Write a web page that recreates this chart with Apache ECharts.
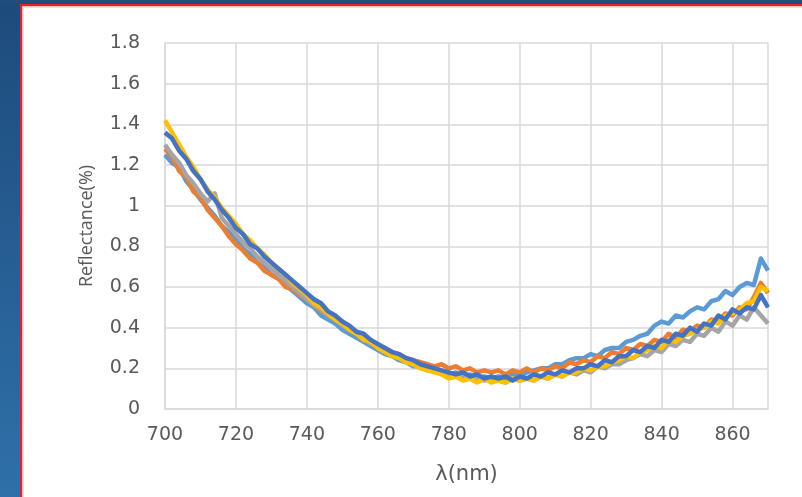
<!DOCTYPE html>
<html><head><meta charset="utf-8">
<script src="https://cdn.jsdelivr.net/npm/echarts@6/dist/echarts.min.js"></script>
<style>html,body{margin:0;padding:0;background:#fff;}#c{width:802px;height:497px;}</style>
</head><body><div id="c"></div>
<script>
const wavelengths = [700,702,704,706,708,710,712,714,716,718,720,722,724,726,728,730,732,734,736,738,740,742,744,746,748,750,752,754,756,758,760,762,764,766,768,770,772,774,776,778,780,782,784,786,788,790,792,794,796,798,800,802,804,806,808,810,812,814,816,818,820,822,824,826,828,830,832,834,836,838,840,842,844,846,848,850,852,854,856,858,860,862,864,866,868,870];
const series1 = [1.25,1.21,1.19,1.12,1.08,1.03,0.99,0.95,0.90,0.87,0.83,0.79,0.76,0.72,0.70,0.66,0.64,0.61,0.58,0.55,0.52,0.50,0.46,0.44,0.42,0.39,0.37,0.35,0.33,0.31,0.29,0.27,0.26,0.24,0.23,0.21,0.21,0.19,0.19,0.18,0.17,0.18,0.16,0.17,0.15,0.16,0.15,0.16,0.15,0.17,0.16,0.18,0.19,0.20,0.20,0.22,0.22,0.24,0.25,0.25,0.27,0.26,0.29,0.30,0.30,0.33,0.34,0.36,0.37,0.41,0.43,0.42,0.46,0.45,0.48,0.50,0.49,0.53,0.54,0.58,0.56,0.60,0.62,0.61,0.74,0.68];
const series2 = [1.28,1.24,1.17,1.14,1.07,1.04,0.98,0.94,0.90,0.85,0.81,0.78,0.74,0.72,0.68,0.66,0.64,0.60,0.59,0.56,0.54,0.51,0.48,0.47,0.44,0.42,0.39,0.38,0.35,0.34,0.31,0.30,0.28,0.27,0.25,0.24,0.23,0.22,0.21,0.22,0.20,0.21,0.19,0.20,0.18,0.19,0.18,0.19,0.17,0.19,0.18,0.20,0.18,0.20,0.19,0.21,0.20,0.23,0.22,0.24,0.23,0.26,0.25,0.28,0.27,0.30,0.29,0.32,0.31,0.34,0.33,0.37,0.35,0.39,0.38,0.41,0.40,0.44,0.43,0.47,0.46,0.50,0.49,0.55,0.62,0.57];
const series3 = [1.30,1.25,1.21,1.15,1.11,1.06,1.02,1.06,0.94,0.90,0.86,0.82,0.79,0.75,0.72,0.69,0.66,0.63,0.60,0.57,0.54,0.51,0.49,0.46,0.44,0.41,0.39,0.37,0.35,0.32,0.31,0.28,0.27,0.25,0.24,0.22,0.21,0.20,0.19,0.18,0.17,0.16,0.17,0.15,0.16,0.14,0.15,0.14,0.13,0.15,0.14,0.15,0.14,0.16,0.15,0.17,0.16,0.18,0.17,0.19,0.18,0.21,0.20,0.22,0.22,0.24,0.25,0.27,0.26,0.29,0.28,0.32,0.31,0.34,0.33,0.37,0.36,0.40,0.38,0.43,0.41,0.46,0.44,0.50,0.46,0.42];
const series4 = [1.42,1.36,1.30,1.24,1.19,1.13,1.08,1.04,0.99,0.95,0.91,0.86,0.83,0.79,0.76,0.72,0.69,0.66,0.62,0.59,0.56,0.52,0.50,0.47,0.44,0.42,0.39,0.37,0.34,0.33,0.30,0.28,0.26,0.25,0.23,0.22,0.20,0.19,0.18,0.17,0.15,0.16,0.14,0.15,0.13,0.15,0.13,0.14,0.13,0.15,0.14,0.15,0.14,0.16,0.15,0.17,0.16,0.18,0.18,0.20,0.19,0.21,0.21,0.23,0.24,0.26,0.25,0.28,0.29,0.31,0.30,0.34,0.33,0.36,0.37,0.39,0.40,0.43,0.42,0.46,0.47,0.49,0.52,0.53,0.60,0.58];
const series5 = [1.36,1.33,1.27,1.23,1.17,1.13,1.07,1.03,0.98,0.94,0.89,0.86,0.81,0.79,0.75,0.72,0.69,0.66,0.63,0.60,0.57,0.54,0.52,0.48,0.46,0.43,0.41,0.38,0.37,0.34,0.32,0.30,0.28,0.27,0.25,0.24,0.22,0.21,0.20,0.19,0.18,0.17,0.18,0.16,0.17,0.15,0.16,0.15,0.16,0.14,0.16,0.15,0.17,0.16,0.18,0.17,0.19,0.18,0.20,0.20,0.22,0.21,0.24,0.23,0.26,0.26,0.29,0.28,0.31,0.30,0.34,0.33,0.37,0.36,0.40,0.38,0.42,0.41,0.46,0.44,0.49,0.47,0.50,0.49,0.56,0.50];
const allSeries = [series1, series2, series3, series4, series5];
const colors = ['#5B9BD5','#ED7D31','#A5A5A5','#FFC000','#4472C4'];

const chart = echarts.init(document.getElementById('c'), null, {renderer:'canvas'});
const labelColor = '#595959';
chart.setOption({
  animation: false,
  backgroundColor: '#ffffff',
  graphic: [
    {type:'rect', left:0, top:0, shape:{width:21, height:497}, style:{fill:new echarts.graphic.LinearGradient(0,0,0,1,[{offset:0,color:'#1d4b7b'},{offset:1,color:'#2f70aa'}])}, z:-10},
    {type:'rect', left:0, top:0, shape:{width:802, height:4}, style:{fill:'#1f4e7c'}, z:-10},
    {type:'rect', left:20, top:4, shape:{width:782, height:2.5}, style:{fill:'#e8202a'}, z:-9},
    {type:'rect', left:20, top:4, shape:{width:2.5, height:493}, style:{fill:'#e8202a'}, z:-9},
    {type:'rect', left:22.5, top:6.5, shape:{width:780, height:1.5}, style:{fill:'#e6e6e6'}, z:-9},
    {type:'rect', left:22.5, top:6.5, shape:{width:1.5, height:491}, style:{fill:'#e6e6e6'}, z:-9}
  ],
  grid: {left:165, right:34, top:43, bottom:88, containLabel:false},
  xAxis: {
    type:'value', min:700, max:870, interval:20,
    name:'λ(nm)', nameLocation:'middle', nameGap:55,
    nameTextStyle:{color:labelColor, fontSize:21, fontFamily:'DejaVu Sans'},
    axisLine:{show:true, lineStyle:{color:'#d9d9d9', width:1.5}},
    axisTick:{show:false},
    axisLabel:{color:labelColor, fontSize:19, fontFamily:'DejaVu Sans', margin:17, showMaxLabel:false},
    splitLine:{show:true, lineStyle:{color:'#d9d9d9', width:1.5}}
  },
  yAxis: {
    type:'value', min:0, max:1.8, interval:0.2,
    name:'Reflectance(%)', nameLocation:'middle', nameGap:69,
    nameTextStyle:{color:labelColor, fontSize:18, fontFamily:'Open Sans'},
    axisLine:{show:true, lineStyle:{color:'#d9d9d9', width:1.5}},
    axisTick:{show:false},
    axisLabel:{color:labelColor, fontSize:19, fontFamily:'DejaVu Sans', margin:25,
      formatter: v => String(Math.round(v*10)/10)},
    splitLine:{show:true, lineStyle:{color:'#d9d9d9', width:1.5}}
  },
  series: allSeries.map((s, i) => ({
    type:'line', showSymbol:false, symbol:'none',
    data: wavelengths.map((w, j) => [w, s[j]]),
    lineStyle:{color:colors[i], width:4.5, join:'round'},
    itemStyle:{color:colors[i]},
    z: 2 + i
  }))
});
</script></body></html>
